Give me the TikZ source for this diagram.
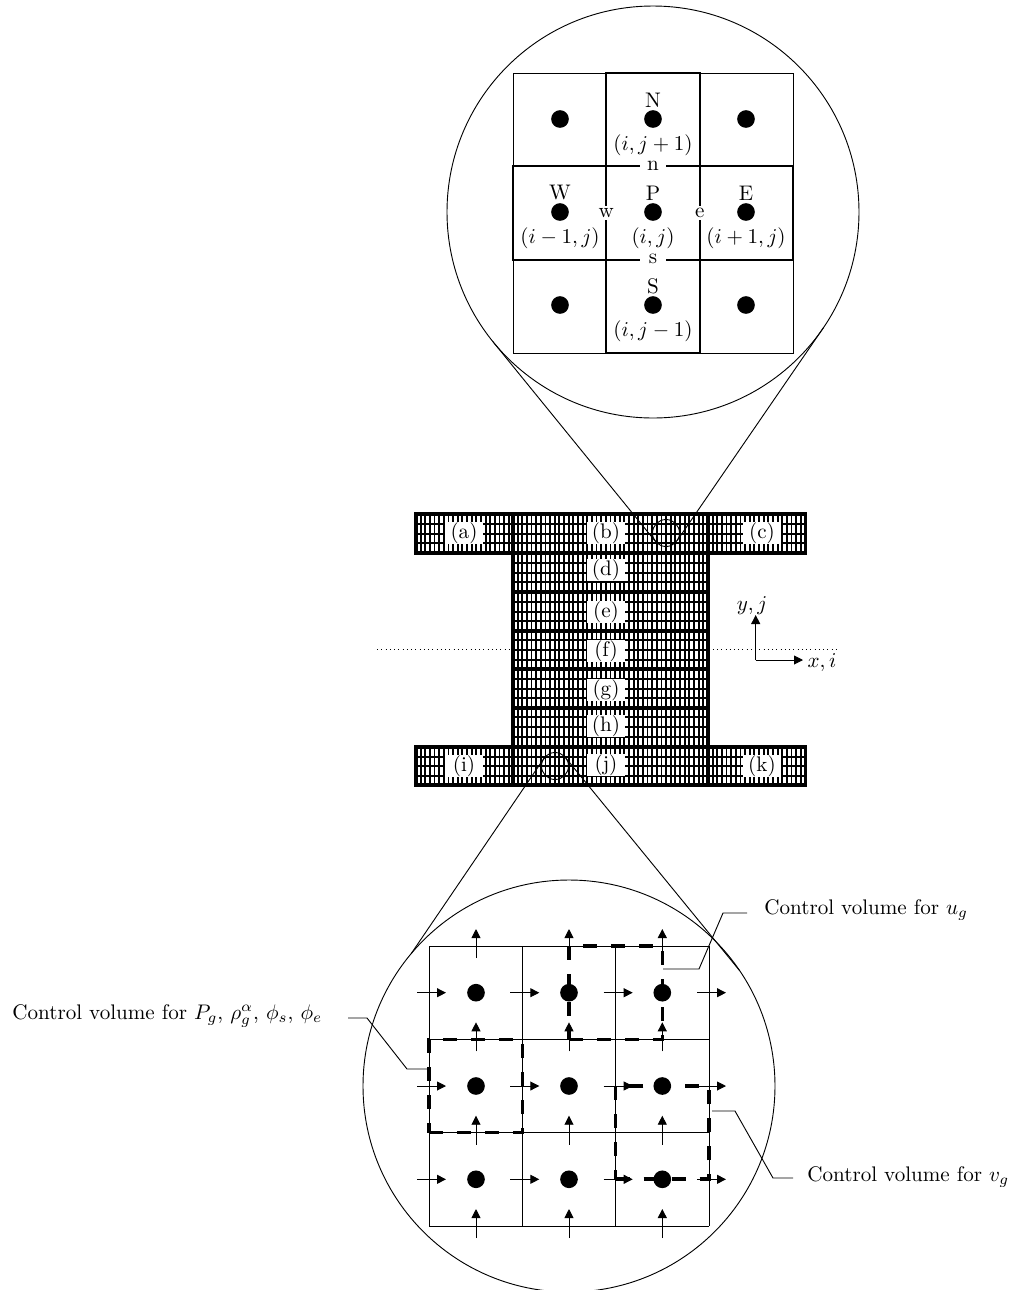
\documentclass[tikz,border=0pt]{standalone}
\usepackage{amsmath,amssymb}
\usepackage{xcolor}
\usetikzlibrary{arrows.meta,positioning,calc}

\begin{document}
\begin{tikzpicture}[
  x=0.6pt, y=-0.6pt,
  thinln/.style={line width=0.55pt},
  gridln/.style={line width=1.1pt},
  arr/.style={line width=0.55pt, -{Triangle[length=5.4pt,width=5.4pt]}},
  cvol/.style={line width=2.1pt, dash pattern=on 8.4pt off 8.4pt},
  dotn/.style={circle, fill=black, minimum size=10.6pt, inner sep=0pt, outer sep=0pt},
  lens/.style={draw, circle, thinln, minimum size=247.2pt, inner sep=0pt, outer sep=0pt},
  spot/.style={draw, circle, thinln, minimum size=16.2pt, inner sep=0pt, outer sep=0pt},
  blk/.style={scale=1.265, fill=white, minimum width=18pt, minimum height=9.8pt, inner sep=0pt},
  face/.style={scale=1.265, fill=white, inner sep=0.95pt, minimum width=11.9pt},
  lbl/.style={scale=1.265, inner sep=0pt},
  meshv/.style={line width=1.1pt},
  meshh/.style={line width=1.2pt},
  meshb/.style={line width=2pt}
]
\useasboundingbox (0,0) rectangle (1013,1290);

% Symmetry line
\coordinate (symL) at (377,649);
\coordinate (symR) at (840,649);
\draw[thinln, dotted] (symL) -- (symR);

% Mesh blocks: left, top, width in cells, height in px
\foreach \xa/\ya/\nc/\ht in {416/514/21/39, 513/514/42/39, 708/514/21/39,
    513/553/42/39, 513/592/42/39, 513/630.5/42/39, 513/669/42/39, 513/707.5/42/39.5,
    416/747/21/38, 513/747/42/38, 708/747/21/38} {
  \pgfmathsetmacro\xb{\xa+\nc*4.64}
  \pgfmathsetmacro\yb{\ya+\ht}
  \foreach \k in {1,...,\nc} {
    \draw[meshv] ({\xa+\k*4.64},\ya) -- ({\xa+\k*4.64},\yb);
  }
  \foreach \k in {1,2,3} {
    \draw[meshh] (\xa,{\ya+\k*\ht/4}) -- (\xb,{\ya+\k*\ht/4});
  }
  \draw[meshb] (\xa,\ya) rectangle (\xb,\yb);
}

% Block labels
\foreach \nm/\px/\py in {a/464/533, b/606/533, c/762/533, d/606/570, e/606/612, f/606/651,
    g/606/690, h/606/726, i/464/766, j/606/765, k/762/766} {
  \node[blk] (blk\nm) at (\px,\py) {(\nm)};
}

% Axes
\coordinate (org) at (755.7,660);
\coordinate (xend) at (803,660);
\coordinate (yend) at (755.7,615);
\draw[arr] (org) -- (xend);
\draw[arr] (org) -- (yend);
\node[lbl] (xlab) at (822,663) {$x,i$};
\node[lbl] (ylab) at (752,606) {$y,j$};

% Top lens
\node[lens] (lensT) at (653,212) {};
\node[spot] (spotT) at (666,533) {};
\draw[thinln] (lensT.219) -- (spotT.219);
\draw[thinln] (lensT.-34.5) -- (spotT.-34.5);

\draw[thinln] (513,73) rectangle (793,353);
\draw[gridln] (606.3,73) rectangle (699.7,353);
\draw[gridln] (513,166.3) rectangle (793,259.7);

\foreach \x in {560,653,746} {
  \foreach \y in {119,212,305} {
    \node[dotn] (d\x\y) at (\x,\y) {};
  }
}
\node[lbl] (nN) at (653,100) {N};
\node[lbl] (nW) at (560,193) {W};
\node[lbl] (nP) at (653,193) {P};
\node[lbl] (nE) at (746,193) {E};
\node[lbl] (nS) at (653,286) {S};
\node[lbl] (cN) at (653,145) {$(i,j+1)$};
\node[lbl] (cW) at (560,238) {$(i-1,j)$};
\node[lbl] (cP) at (653,238) {$(i,j)$};
\node[lbl] (cE) at (746,238) {$(i+1,j)$};
\node[lbl] (cS) at (653,331) {$(i,j-1)$};
\node[face] (fn) at (653,166) {n};
\node[face] (fs) at (653,259) {s};
\node[face, minimum width=0pt] (fw) at (606.3,213) {w};
\node[face, minimum width=0pt] (fe) at (699.7,213) {e};

% Bottom lens
\node[lens] (lensB) at (569,1086) {};
\node[spot] (spotB) at (555,766) {};
\draw[thinln] (lensB.140.6) -- (spotB.140.6);
\draw[thinln] (lensB.34.4) -- (spotB.34.4);

\foreach \x in {429,522.3,615.7,709} {
  \draw[thinln] (\x,946) -- (\x,1226);
}
\foreach \y in {946,1039.3,1132.7,1226} {
  \draw[thinln] (429,\y) -- (709,\y);
}

% Control volumes
\draw[cvol] (429,1132.7) -- (522.3,1132.7) -- (522.3,1039.3) -- (429,1039.3) -- cycle;
\draw[cvol] (569,1039.3) -- (662.3,1039.3) -- (662.3,946) -- (569,946) -- cycle;
\draw[cvol] (615.7,1179) -- (709,1179) -- (709,1086) -- (615.7,1086) -- cycle;

\foreach \y in {992.7,1086,1179.3} {
  \foreach \x in {429,522.3,615.7,709} {
    \coordinate (ha) at (\x-12,\y);
    \coordinate (hb) at (\x+17,\y);
    \draw[arr] (ha) -- (hb);
  }
}
\foreach \x in {476,569,662.3} {
  \foreach \y in {946,1039.3,1132.7,1226} {
    \coordinate (va) at (\x,\y+12);
    \coordinate (vb) at (\x,\y-17);
    \draw[arr] (va) -- (vb);
  }
  \foreach \y in {992.7,1086,1179.3} {
    \node[dotn] (p\x\y) at (\x,\y) {};
  }
}

% Leaders
\node[lbl, anchor=west] (labP) at (12,1016) {Control volume for $P_g$, $\rho_g^\alpha$, $\phi_s$, $\phi_e$};
\node[lbl, anchor=west] (labU) at (764,910) {Control volume for $u_g$};
\node[lbl, anchor=west] (labV) at (807,1177) {Control volume for $v_g$};

\coordinate (lPa) at (348,1018);
\coordinate (lPb) at (429,1069);
\coordinate (lUa) at (747,913);
\coordinate (lUb) at (663,969);
\coordinate (lVa) at (793,1178);
\coordinate (lVb) at (712,1111);
\draw[thinln] (lPa) -- (367,1018) -- (407,1069) -- (lPb);
\draw[thinln] (lUa) -- (723,913) -- (699,969) -- (lUb);
\draw[thinln] (lVa) -- (773,1178) -- (735,1111) -- (lVb);

\end{tikzpicture}
\end{document}
